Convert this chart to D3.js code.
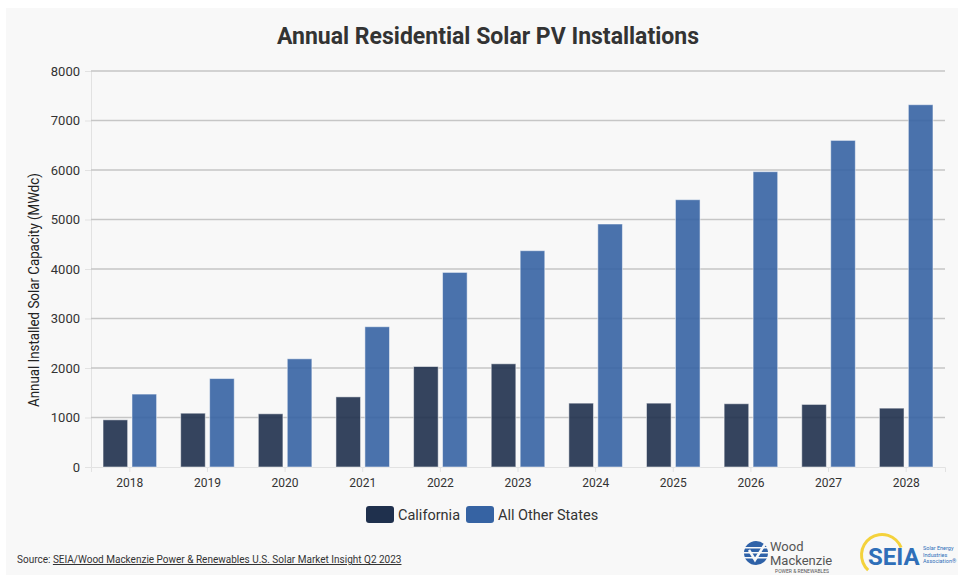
<!DOCTYPE html>
<html>
<head>
<meta charset="utf-8">
<script src="https://cdn.jsdelivr.net/npm/d3@7"></script>
<style>
  body { margin: 0; background: #ffffff; font-family: Roboto, "Noto Sans", sans-serif; }
  svg text { font-family: Roboto, "Noto Sans", sans-serif; }
</style>
</head>
<body>
<div id="chart"></div>
<script>
var years = ['2018', '2019', '2020', '2021', '2022', '2023', '2024', '2025', '2026', '2027', '2028'];
var california = [953, 1087, 1075, 1417, 2030, 2085, 1290, 1290, 1278, 1264, 1189];
var otherStates = [1473, 1787, 2186, 2834, 3931, 4370, 4909, 5400, 5966, 6598, 7319];
var seriesNames = ['California', 'All Other States'];
var seriesColors = ['#1f304d', '#3663a3'];
var yTicks = [0, 1000, 2000, 3000, 4000, 5000, 6000, 7000, 8000];

var width = 958,
  height = 575,
  margin = { top: 71, right: 13, bottom: 108, left: 91 };

var svg = d3
  .select('#chart')
  .append('svg')
  .attr('width', width)
  .attr('height', height);

// grey card behind everything
svg
  .append('rect')
  .attr('x', 6)
  .attr('y', 8)
  .attr('width', width - 6)
  .attr('height', height - 8)
  .attr('fill', '#f8f8f8');

svg
  .append('text')
  .attr('x', 488)
  .attr('y', 44)
  .attr('text-anchor', 'middle')
  .attr('font-size', 23)
  .attr('font-weight', 'bold')
  .attr('fill', '#333333')
  .text('Annual Residential Solar PV Installations');

var innerW = width - margin.left - margin.right,
  innerH = height - margin.top - margin.bottom;

var g = svg
  .append('g')
  .attr('transform', 'translate(' + margin.left + ',' + margin.top + ')');

var x = d3.scaleBand().domain(years).range([0, innerW]).paddingInner(0.31).paddingOuter(0.155);
var x0 = d3.scaleBand().domain(years).range([0, innerW]);
var x1 = d3
  .scaleBand()
  .domain(seriesNames)
  .range([0, x.bandwidth()])
  .paddingInner(0.15);
var y = d3.scaleLinear().domain([0, 8000]).range([innerH, 0]);

// y axis with gridlines
var yAxis = g
  .append('g')
  .call(
    d3
      .axisLeft(y)
      .tickValues(yTicks)
      .tickFormat(d3.format('d'))
      .tickSize(6)
      .tickPadding(5)
  );
yAxis.select('.domain').attr('stroke', '#e2e2e2');
yAxis.selectAll('.tick line').attr('stroke', '#e2e2e2');
yAxis
  .selectAll('.tick text')
  .attr('font-size', 13)
  .attr('fill', '#333333');

g.append('g')
  .selectAll('line')
  .data(yTicks.filter((d) => d > 0))
  .enter()
  .append('line')
  .attr('x1', 0)
  .attr('x2', innerW)
  .attr('y1', (d) => y(d))
  .attr('y2', (d) => y(d))
  .attr('stroke', '#c6c6c6')
  .attr('stroke-width', 1.5);

var xAxis = g
  .append('g')
  .attr('transform', 'translate(0,' + innerH + ')')
  .call(d3.axisBottom(x0).tickSize(5).tickPadding(6));
xAxis.select('.domain').attr('stroke', '#e2e2e2');
xAxis.selectAll('.tick line').attr('stroke', '#e2e2e2');
xAxis
  .selectAll('.tick text')
  .attr('font-size', 12)
  .attr('fill', '#333333');

var rows = years.map((d, i) => ({ year: d, values: [california[i], otherStates[i]] }));

var groups = g
  .append('g')
  .selectAll('g')
  .data(rows)
  .enter()
  .append('g')
  .attr('transform', (d) => 'translate(' + x(d.year) + ',0)');

groups
  .selectAll('rect')
  .data((d) => d.values.map((v, i) => ({ name: seriesNames[i], value: v, i: i })))
  .enter()
  .append('rect')
  .attr('x', (d) => x1(d.name))
  .attr('y', (d) => y(d.value))
  .attr('width', x1.bandwidth())
  .attr('height', (d) => innerH - y(d.value))
  .attr('fill', (d) => seriesColors[d.i])
  .attr('fill-opacity', 0.9)
  .attr('stroke', '#ffffff')
  .attr('stroke-opacity', 0.5)
  .attr('stroke-width', 1);

svg
  .append('text')
  .attr('transform', 'translate(39,290) rotate(-90)')
  .attr('text-anchor', 'middle')
  .attr('font-size', 15)
  .attr('textLength', 234)
  .attr('lengthAdjust', 'spacingAndGlyphs')
  .attr('fill', '#222222')
  .text('Annual Installed Solar Capacity (MWdc)');

// legend
var legend = svg.append('g').attr('transform', 'translate(366,506)');
var legX = [0, 100];
seriesNames.forEach((name, i) => {
  var item = legend.append('g').attr('transform', 'translate(' + legX[i] + ',0)');
  item
    .append('rect')
    .attr('width', 28)
    .attr('height', 17)
    .attr('rx', 3)
    .attr('fill', seriesColors[i]);
  item
    .append('text')
    .attr('x', 32)
    .attr('y', 14)
    .attr('font-size', 14.5)
    .attr('fill', '#333333')
    .text(name);
});

// source line
var source = svg
  .append('text')
  .attr('x', 17)
  .attr('y', 563)
  .attr('font-size', 10)
  .attr('fill', '#333333');
source.append('tspan').text('Source: ');
source
  .append('tspan')
  .attr('text-decoration', 'underline')
  .text('SEIA/Wood Mackenzie Power & Renewables U.S. Solar Market Insight Q2 2023');

// rough logos
var wm = svg.append('g').attr('transform', 'translate(756,553)');
wm.append('circle').attr('r', 12).attr('fill', '#2f62a8');
[-6, -1, 4].forEach((dy) => {
  wm.append('rect')
    .attr('x', -12)
    .attr('y', dy)
    .attr('width', 24)
    .attr('height', 1.5)
    .attr('fill', '#f8f8f8');
});
wm.append('path')
  .attr('d', 'M-7,-3 L-1,7 L9,-9')
  .attr('fill', 'none')
  .attr('stroke', '#f8f8f8')
  .attr('stroke-width', 2.5);
wm.append('text').attr('x', 14).attr('y', -2).attr('font-size', 13).attr('fill', '#555555').text('Wood');
wm.append('text').attr('x', 14).attr('y', 12).attr('font-size', 13).attr('fill', '#555555').text('Mackenzie');
wm.append('text').attr('x', 19).attr('y', 20).attr('font-size', 5).attr('fill', '#555555').text('POWER & RENEWABLES');

var seia = svg.append('g').attr('transform', 'translate(868,555)');
seia
  .append('path')
  .attr('transform', 'translate(14,0)')
  .attr('d', d3.arc()({ innerRadius: 19, outerRadius: 22, startAngle: -2.4, endAngle: 1.2 }))
  .attr('fill', '#f4d23c');
seia
  .append('text')
  .attr('x', 0)
  .attr('y', 10)
  .attr('font-size', 24)
  .attr('font-weight', 'bold')
  .attr('fill', '#2f6fb8')
  .text('SEIA');
['Solar Energy', 'Industries', 'Association®'].forEach((t, i) => {
  seia
    .append('text')
    .attr('x', 55)
    .attr('y', -5 + i * 6.5)
    .attr('font-size', 5.5)
    .attr('fill', '#2f6fb8')
    .text(t);
});
</script>
</body>
</html>
